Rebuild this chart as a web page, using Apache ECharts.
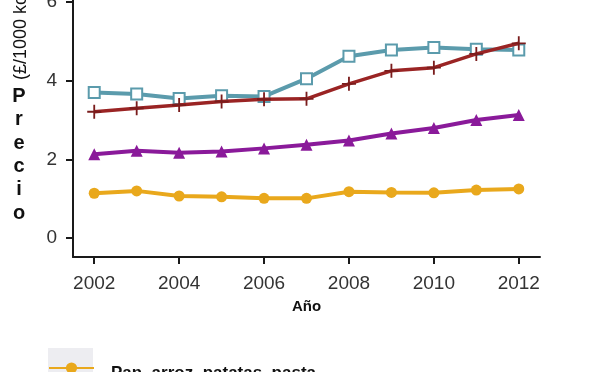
<!DOCTYPE html>
<html>
<head>
<meta charset="utf-8">
<script src="https://cdn.jsdelivr.net/npm/echarts@6/dist/echarts.min.js"></script>
<style>
html,body{margin:0;padding:0;background:#fff;}
#c{width:600px;height:372px;}
</style>
</head>
<body>
<div id="c"></div>
<script>
var years = [2002, 2003, 2004, 2005, 2006, 2007, 2008, 2009, 2010, 2011, 2012];
var xTicks = [2002, 2004, 2006, 2008, 2010, 2012];
var yTicks = [0, 2, 4, 6];

var panArroz = [1.14, 1.20, 1.07, 1.05, 1.01, 1.01, 1.18, 1.16, 1.15, 1.22, 1.25];
var serieMorada = [2.13, 2.22, 2.17, 2.20, 2.28, 2.37, 2.48, 2.66, 2.80, 3.00, 3.13];
var serieRoja = [3.21, 3.30, 3.38, 3.47, 3.53, 3.54, 3.92, 4.25, 4.33, 4.68, 4.95];
var serieAzul = [3.70, 3.66, 3.55, 3.62, 3.60, 4.05, 4.62, 4.78, 4.84, 4.80, 4.78];

var names = ['Pan, arroz, patatas, pasta', 'Lácteos', 'Carne, pescado, huevos', 'Frutas y verduras'];

function pairs(vals) { return years.map(function (y, i) { return [y, vals[i]]; }); }

var chart = echarts.init(document.getElementById('c'), null, {renderer: 'canvas'});
var FONT = 'Liberation Sans, Arial, sans-serif';
var plus = 'path://M4.35,0H5.65V4.35H10V5.65H5.65V10H4.35V5.65H0V4.35H4.35Z';

chart.setOption({
  animation: false,
  backgroundColor: '#ffffff',
  grid: {left: 73, right: 60, top: 0, bottom: 115, containLabel: false, outerBoundsMode: 'none'},
  xAxis: {
    type: 'value', min: 2001.5, max: 2012.5,
    name: 'Año', nameLocation: 'middle', nameGap: 42,
    nameTextStyle: {fontFamily: FONT, fontWeight: 'bold', fontSize: 15, color: '#111'},
    axisLine: {show: true, onZero: false, lineStyle: {color: '#1a1a1a', width: 2}},
    axisTick: {show: true, length: 7, lineStyle: {color: '#1a1a1a', width: 2}, customValues: xTicks},
    axisLabel: {customValues: xTicks, formatter: function (v) { return String(v); }, fontFamily: FONT, fontSize: 19, color: '#333', margin: 17, hideOverlap: false},
    splitLine: {show: false}
  },
  yAxis: {
    type: 'value', min: -0.48, max: 6.05,
    axisLine: {show: true, onZero: false, lineStyle: {color: '#1a1a1a', width: 2}},
    axisTick: {show: true, length: 7, lineStyle: {color: '#1a1a1a', width: 2}, customValues: yTicks},
    axisLabel: {customValues: yTicks, fontFamily: FONT, fontSize: 19, color: '#333', margin: 16, hideOverlap: false},
    splitLine: {show: false}
  },
  legend: {
    data: [names[0]],
    left: 48, top: 354, padding: 0,
    itemWidth: 45, itemHeight: 14,
    formatter: function (n) { return '\n' + n; },
    textStyle: {fontFamily: FONT, fontWeight: 'bold', fontSize: 17, color: '#111', lineHeight: 11, padding: [0, 0, 0, 12]}
  },
  graphic: [
    {type: 'rect', z: -1, shape: {x: 48, y: 348, width: 45, height: 30}, style: {fill: '#ededf1'}},
    {type: 'text', x: 19, y: 85, style: {text: 'P\nr\ne\nc\ni\no', fontFamily: FONT, fontWeight: 'bold', fontSize: 20, lineHeight: 23.3, fill: '#111', align: 'center', verticalAlign: 'top'}},
    {type: 'text', x: 21, y: 80, rotation: Math.PI / 2, style: {text: '(£/1000 kcal)', fontFamily: FONT, fontSize: 18, fill: '#111', align: 'left', verticalAlign: 'middle'}}
  ],
  series: [
    {name: names[0], type: 'line', data: pairs(panArroz), symbol: 'circle', symbolSize: 11,
     lineStyle: {color: '#e9a81c', width: 4}, itemStyle: {color: '#e9a81c'}, z: 2},
    {name: names[1], type: 'line', data: pairs(serieMorada), symbol: 'triangle', symbolSize: 12,
     lineStyle: {color: '#8a1a9a', width: 4}, itemStyle: {color: '#8a1a9a'}, z: 2},
    {name: names[3], type: 'line', data: pairs(serieAzul), symbol: 'emptyRect', symbolSize: 11,
     lineStyle: {color: '#5b9bac', width: 4}, itemStyle: {color: '#5b9bac', borderColor: '#5b9bac', borderWidth: 2.5}, z: 3},
    {name: names[2], type: 'line', data: pairs(serieRoja), symbol: plus, symbolSize: 14,
     lineStyle: {color: '#9a2424', width: 3.5}, itemStyle: {color: '#7a1c1c'}, z: 4}
  ]
});
</script>
</body>
</html>
